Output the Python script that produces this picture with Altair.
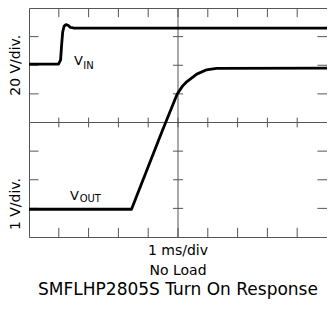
import altair as alt
import pandas as pd

# ---- trace data (time in ms, value in screen divisions from bottom) ----
vin_t = [0, 0.99, 1.06, 1.09, 1.13, 1.18, 1.24, 1.32, 1.39, 1.52, 10]
vin_v = [6.04, 6.04, 6.19, 6.64, 7.16, 7.37, 7.42, 7.39, 7.32, 7.30, 7.30]
vout_t = [0, 3.44, 4.47, 4.97, 5.15, 5.30, 5.63, 5.96, 6.29, 10]
vout_v = [0.97, 0.97, 3.70, 4.99, 5.27, 5.43, 5.69, 5.84, 5.89, 5.90]

# ---- graticule divisions ----
x_divs = [1, 2, 3, 4, 5, 6, 7, 8, 9]
y_divs = [1, 2, 3, 4, 5, 6, 7]
X_MAX, Y_MAX = 10, 8
X_MID, Y_MID = 5, 4
BT = 0.32   # border tick length (divisions)
CT = 0.17   # centre tick half length (divisions)

segs = []
for t in x_divs:
    segs.append(dict(x=t, x2=t, y=Y_MAX, y2=Y_MAX - BT))
    segs.append(dict(x=t, x2=t, y=0, y2=BT))
    segs.append(dict(x=t, x2=t, y=Y_MID - CT, y2=Y_MID + CT))
for t in y_divs:
    segs.append(dict(x=0, x2=BT, y=t, y2=t))
    segs.append(dict(x=X_MAX, x2=X_MAX - BT, y=t, y2=t))
    segs.append(dict(x=X_MID - CT, x2=X_MID + CT, y=t, y2=t))
segs.append(dict(x=X_MID, x2=X_MID, y=0, y2=Y_MAX))
segs.append(dict(x=0, x2=X_MAX, y=Y_MID, y2=Y_MID))
seg_df = pd.DataFrame(segs)

trace_df = pd.concat([
    pd.DataFrame({"t": vin_t, "v": vin_v, "s": "VIN"}),
    pd.DataFrame({"t": vout_t, "v": vout_v, "s": "VOUT"}),
])

xs = alt.Scale(domain=[0, X_MAX], nice=False, zero=False)
ys = alt.Scale(domain=[0, Y_MAX], nice=False, zero=False)
FONT = "DejaVu Sans"
GRID = "#555555"

grid = alt.Chart(seg_df).mark_rule(color=GRID, strokeWidth=1).encode(
    x=alt.X("x:Q", scale=xs, axis=None),
    x2="x2:Q",
    y=alt.Y("y:Q", scale=ys, axis=None),
    y2="y2:Q",
)

traces = alt.Chart(trace_df).mark_line(color="black", strokeWidth=2.8, strokeJoin="round").encode(
    x=alt.X("t:Q", scale=xs, axis=None),
    y=alt.Y("v:Q", scale=ys, axis=None),
    detail="s:N",
)

def txt(df, **kw):
    return alt.Chart(pd.DataFrame(df)).mark_text(font=FONT, color="black", **kw).encode(
        x=alt.X("x:Q", scale=xs, axis=None),
        y=alt.Y("y:Q", scale=ys, axis=None),
        text="label:N",
    )

v_main = txt({"x": [1.51, 1.38], "y": [6.02, 1.28], "label": ["V", "V"]},
             fontSize=13, align="left", baseline="alphabetic")
v_sub = txt({"x": [1.82, 1.70], "y": [5.86, 1.22], "label": ["IN", "OUT"]},
            fontSize=10, align="left", baseline="alphabetic")
y_titles = txt({"x": [-0.43, -0.43], "y": [6.0, 1.15], "label": ["20 V/div.", "1 V/div."]},
               fontSize=14, angle=270, align="center", baseline="middle")
bottom1 = txt({"x": [5, 5], "y": [-0.63, -1.33], "label": ["1 ms/div", "No Load"]},
              fontSize=14, align="center", baseline="alphabetic")
bottom2 = txt({"x": [5], "y": [-2.03], "label": ["SMFLHP2805S Turn On Response"]},
              fontSize=17, align="center", baseline="alphabetic")

chart = alt.layer(grid, traces, v_main, v_sub, y_titles, bottom1, bottom2).properties(
    width=298,
    height=229,
    autosize=alt.AutoSizeParams(type="none"),
    padding={"left": 21, "top": 0, "right": 0, "bottom": 62},
).configure_view(stroke=GRID, strokeWidth=1)

chart.save("out.html", embed_options={"renderer": "svg", "actions": False})
